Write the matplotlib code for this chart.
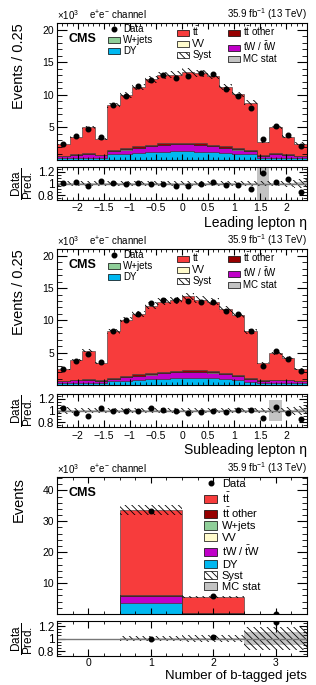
import numpy as np
import matplotlib
matplotlib.use('Agg')
import matplotlib.pyplot as plt
import matplotlib.transforms as mtransforms
from matplotlib.patches import Patch
from matplotlib.lines import Line2D
from matplotlib.legend import Legend
from matplotlib.ticker import MultipleLocator, FuncFormatter

plt.rcParams['font.family'] = ['Liberation Sans', 'DejaVu Sans']
plt.rcParams['mathtext.fontset'] = 'custom'
plt.rcParams['mathtext.rm'] = 'Liberation Sans'
plt.rcParams['mathtext.it'] = 'Liberation Sans:italic'
plt.rcParams['mathtext.bf'] = 'Liberation Sans:bold'
plt.rcParams['hatch.linewidth'] = 0.6
plt.rcParams['hatch.color'] = 'black'
plt.rcParams['axes.linewidth'] = 0.8

# ---- leading lepton eta (x10^3 events per bin) ----
eta_edges = np.linspace(-2.4, 2.4, 21)
lead_total = [2.4, 3.6, 5.0, 3.3, 8.4, 10.0, 11.2, 12.4, 13.0, 13.1,
              13.6, 13.3, 12.9, 11.2, 10.1, 8.8, 2.7, 5.0, 3.6, 2.5]
lead_dy = [0.25, 0.30, 0.35, 0.30, 0.90, 1.00, 1.10, 1.20, 1.30, 1.35,
           1.35, 1.30, 1.20, 1.10, 1.00, 0.90, 0.30, 0.35, 0.30, 0.25]
lead_tw = [0.30, 0.45, 0.55, 0.40, 0.50, 0.60, 0.75, 0.90, 1.00, 1.05,
           1.05, 1.00, 0.90, 0.75, 0.60, 0.50, 0.35, 0.55, 0.45, 0.30]
lead_tto = [0.05, 0.08, 0.10, 0.07, 0.15, 0.18, 0.20, 0.22, 0.23, 0.23,
            0.24, 0.23, 0.23, 0.20, 0.18, 0.15, 0.06, 0.10, 0.08, 0.05]
lead_vv = [0.01, 0.02, 0.02, 0.02, 0.03, 0.03, 0.04, 0.04, 0.04, 0.04,
           0.04, 0.04, 0.04, 0.04, 0.03, 0.03, 0.02, 0.02, 0.02, 0.01]
lead_wj = [0.01, 0.01, 0.01, 0.01, 0.01, 0.01, 0.01, 0.01, 0.01, 0.01,
           0.01, 0.01, 0.01, 0.01, 0.01, 0.01, 0.01, 0.01, 0.01, 0.01]
lead_ratio = [1.01, 1.02, 0.96, 1.05, 1.01, 0.99, 1.01, 0.99, 1.00, 0.96,
              0.95, 1.00, 1.03, 0.98, 0.97, 0.90, 1.17, 1.03, 1.07, 0.86]
lead_syst = [0.05, 0.045, 0.045, 0.045, 0.04, 0.04, 0.04, 0.04, 0.04, 0.04,
             0.04, 0.04, 0.04, 0.04, 0.04, 0.045, 0.05, 0.05, 0.06, 0.08]
lead_stat = [0.015, 0.012, 0.01, 0.012, 0.006, 0.006, 0.006, 0.006, 0.006, 0.006,
             0.006, 0.006, 0.006, 0.006, 0.006, 0.006, 0.35, 0.012, 0.015, 0.02]

# ---- subleading lepton eta ----
sub_total = [2.4, 3.9, 5.3, 3.4, 8.3, 10.1, 11.0, 12.3, 12.9, 13.1,
             13.7, 13.2, 12.9, 11.8, 10.8, 8.3, 3.4, 4.9, 4.2, 2.5]
sub_dy = [0.30, 0.35, 0.35, 0.30, 0.55, 0.65, 0.75, 0.85, 0.95, 1.05,
          1.10, 1.10, 1.05, 0.90, 0.75, 0.50, 0.30, 0.30, 0.35, 0.30]
sub_tw = [0.25, 0.35, 0.40, 0.30, 0.40, 0.55, 0.65, 0.75, 0.85, 0.90,
          0.90, 0.90, 0.85, 0.75, 0.60, 0.35, 0.30, 0.40, 0.35, 0.25]
sub_tto = [0.05, 0.08, 0.10, 0.07, 0.15, 0.18, 0.20, 0.22, 0.23, 0.23,
           0.24, 0.23, 0.23, 0.20, 0.18, 0.15, 0.07, 0.10, 0.08, 0.05]
sub_vv = lead_vv
sub_wj = lead_wj
sub_ratio = [1.045, 0.96, 0.915, 1.045, 1.00, 0.99, 1.00, 1.035, 1.015, 1.00,
             0.95, 0.97, 1.00, 0.97, 1.015, 1.005, 0.88, 1.06, 0.96, 0.85]
sub_syst = [0.06, 0.05, 0.05, 0.05, 0.045, 0.04, 0.04, 0.04, 0.04, 0.04,
            0.04, 0.04, 0.04, 0.04, 0.04, 0.045, 0.05, 0.05, 0.06, 0.08]
sub_stat = [0.015, 0.012, 0.01, 0.012, 0.006, 0.006, 0.006, 0.006, 0.006, 0.006,
            0.006, 0.006, 0.006, 0.006, 0.006, 0.006, 0.015, 0.18, 0.012, 0.02]

# ---- number of b-tagged jets ----
nb_edges = [-0.5, 0.5, 1.5, 2.5, 3.5]
nb_total = [0.0, 33.6, 5.65, 0.048]
nb_dy = [0.0, 3.5, 0.08, 0.002]
nb_tw = [0.0, 2.3, 0.12, 0.003]
nb_tto = [0.0, 0.35, 0.08, 0.002]
nb_vv = [0.0, 0.08, 0.01, 0.0]
nb_wj = [0.0, 0.03, 0.005, 0.0]
nb_ratio = [np.nan, 0.99, 1.02, 1.26]
nb_syst = [0.0, 0.045, 0.06, 0.18]
nb_stat = [0.0, 0.004, 0.01, 0.10]

C_TT = '#f73c3c'
C_TTO = '#960000'
C_WJ = '#8fcf99'
C_VV = '#fffbcc'
C_TW = '#c000c8'
C_DY = '#00b8f0'
C_STAT = '#c3c3c3'
HATCH = '\\' * 5

TT = r't$\bar{\mathrm{t}}$'
TTO = r't$\bar{\mathrm{t}}$ other'
TW = r'tW / $\bar{\mathrm{t}}$W'


def draw(ax, rax, edges, total, dy, tw, tto, vv, wj, ratio, syst, stat):
    total = np.array(total)
    others = np.array(dy) + np.array(tw) + np.array(tto) + np.array(vv) + np.array(wj)
    tt = total - others
    base = np.zeros(len(total))
    for vals, col in [(dy, C_DY), (tw, C_TW), (vv, C_VV), (wj, C_WJ), (tto, C_TTO), (tt, C_TT)]:
        top = base + np.array(vals)
        ax.stairs(top, edges, baseline=base, fill=True, facecolor=col,
                  edgecolor='#333333', lw=0.4)
        base = top
    syst = np.array(syst)
    stat = np.array(stat)
    ax.stairs(total * (1 + syst), edges, baseline=total * (1 - syst), fill=True,
              facecolor='none', edgecolor='black', lw=0, hatch=HATCH)

    ratio = np.array(ratio)
    data = ratio * total
    centers = 0.5 * (np.array(edges[1:]) + np.array(edges[:-1]))
    n = data * 1000.0
    ax.errorbar(centers, data, yerr=np.sqrt(n) / 1000.0, fmt='o', color='black',
                ms=3.3, lw=0.8, capsize=0, zorder=5)

    rax.stairs(1 + stat, edges, baseline=1 - stat, fill=True, facecolor=C_STAT,
               edgecolor='none', lw=0)
    rax.stairs(1 + syst, edges, baseline=1 - syst, fill=True, facecolor='none',
               edgecolor='black', lw=0, hatch=HATCH)
    rax.axhline(1.0, color='#777777', lw=1.0)
    rax.errorbar(centers, ratio, yerr=ratio / np.sqrt(n), fmt='o', color='black',
                 ms=3.3, lw=0.8, capsize=0, zorder=5)

    ax.set_xlim(edges[0], edges[-1])
    rax.set_xlim(edges[0], edges[-1])
    rax.set_ylim(0.72, 1.28)
    rax.set_yticks([0.8, 1.0, 1.2], labels=['0.8', '1', '1.2'])
    rax.yaxis.set_minor_locator(MultipleLocator(0.05))

    ax.tick_params(which='both', direction='in', top=True, right=True)
    ax.tick_params(axis='y', which='major', length=7, labelsize=7.5, pad=2)
    ax.tick_params(axis='y', which='minor', length=3.5)
    ax.tick_params(axis='x', which='major', length=4, labelbottom=False)
    ax.tick_params(axis='x', which='minor', length=2)
    rax.tick_params(which='both', direction='in', top=True, right=True)
    rax.tick_params(axis='y', which='major', length=6, labelsize=8.5, pad=2)
    rax.tick_params(axis='y', which='minor', length=3)
    rax.tick_params(axis='x', which='major', length=5, labelsize=7.5, pad=2.5)
    rax.tick_params(axis='x', which='minor', length=2.5)

    ax.text(0.0, 1.01, r'$\times$10$^{3}$', transform=ax.transAxes, ha='left',
            va='bottom', fontsize=7)
    ax.text(0.128, 1.01, r'e$^{+}$e$^{-}$ channel', transform=ax.transAxes,
            ha='left', va='bottom', fontsize=7)
    ax.text(1.0, 1.01, r'35.9 fb$^{-1}$ (13 TeV)', transform=ax.transAxes,
            ha='right', va='bottom', fontsize=7)
    ax.text(0.044, 0.93, 'CMS', transform=ax.transAxes, ha='left', va='top',
            fontsize=9, fontweight='bold')

    tr = mtransforms.blended_transform_factory(rax.transAxes, rax.transData)
    rax.text(-0.14, 1.0, r'$\dfrac{\mathrm{Data}}{\mathrm{Pred.}}$', transform=tr,
             rotation=90, ha='center', va='center', fontsize=8.5)


def fmt_eta(v, pos):
    return ('%g' % v).replace('-', '\u2212')


h_data = Line2D([], [], marker='o', color='black', ls='none', ms=3.3)
h_tt = Patch(facecolor=C_TT, edgecolor='black', lw=0.5)
h_tto = Patch(facecolor=C_TTO, edgecolor='black', lw=0.5)
h_wj = Patch(facecolor=C_WJ, edgecolor='black', lw=0.5)
h_vv = Patch(facecolor=C_VV, edgecolor='black', lw=0.5)
h_tw = Patch(facecolor=C_TW, edgecolor='black', lw=0.5)
h_dy = Patch(facecolor=C_DY, edgecolor='black', lw=0.5)
h_syst = Patch(facecolor='white', edgecolor='black', lw=0.5, hatch=HATCH)
h_stat = Patch(facecolor=C_STAT, edgecolor='black', lw=0.5)


def three_col_legend(ax):
    cols = [([h_data, h_wj, h_dy], ['Data', 'W+jets', 'DY'], 0.204),
            ([h_tt, h_vv, h_syst], [TT, 'VV', 'Syst'], 0.48),
            ([h_tto, h_tw, h_stat], [TTO, TW, 'MC stat'], 0.684)]
    for hs, ls, x in cols:
        leg = Legend(ax, hs, ls, loc='upper left', bbox_to_anchor=(x, 0.99),
                     frameon=False, fontsize=7, handlelength=1.25,
                     handleheight=0.65, handletextpad=0.3, labelspacing=0.1,
                     borderpad=0, borderaxespad=0)
        ax.add_artist(leg)


fig = plt.figure(figsize=(3.16, 6.85), dpi=100)
L, W = 0.1804, 0.7911
ax1 = fig.add_axes([L, 0.7664, W, 0.2000])
rx1 = fig.add_axes([L, 0.7080, W, 0.0482])
ax2 = fig.add_axes([L, 0.4380, W, 0.1985])
rx2 = fig.add_axes([L, 0.3766, W, 0.0482])
ax3 = fig.add_axes([L, 0.1036, W, 0.2000])
rx3 = fig.add_axes([L, 0.0423, W, 0.0511])

draw(ax1, rx1, eta_edges, lead_total, lead_dy, lead_tw, lead_tto, lead_vv, lead_wj,
     lead_ratio, lead_syst, lead_stat)
draw(ax2, rx2, eta_edges, sub_total, sub_dy, sub_tw, sub_tto, sub_vv, sub_wj,
     sub_ratio, sub_syst, sub_stat)
draw(ax3, rx3, nb_edges, nb_total, nb_dy, nb_tw, nb_tto, nb_vv, nb_wj,
     nb_ratio, nb_syst, nb_stat)

for ax, rx, lab in [(ax1, rx1, 'Leading lepton \u03b7'), (ax2, rx2, 'Subleading lepton \u03b7')]:
    ax.set_ylim(0, 21.05)
    ax.set_yticks([5, 10, 15, 20])
    ax.yaxis.set_minor_locator(MultipleLocator(1))
    for a in (ax, rx):
        a.xaxis.set_major_locator(MultipleLocator(0.5))
        a.xaxis.set_minor_locator(MultipleLocator(0.1))
    rx.xaxis.set_major_formatter(FuncFormatter(fmt_eta))
    ax.set_ylabel('Events / 0.25', fontsize=10.5, loc='top')
    ax.yaxis.set_label_coords(-0.125, 1.0)
    rx.set_xlabel(lab, fontsize=10, loc='right')
    rx.xaxis.set_label_coords(1.0, -0.47)
    three_col_legend(ax)

ax3.set_ylim(0, 44.3)
ax3.set_yticks([10, 20, 30, 40])
ax3.yaxis.set_minor_locator(MultipleLocator(2))
for a in (ax3, rx3):
    a.set_xticks([0, 1, 2, 3])
    a.xaxis.set_minor_locator(MultipleLocator(0.25))
rx3.tick_params(axis='x', which='major', pad=1.5)
ax3.set_ylabel('Events', fontsize=10.5, loc='top')
ax3.yaxis.set_label_coords(-0.125, 1.0)
rx3.set_xlabel('Number of b-tagged jets', fontsize=9.5, loc='right')
rx3.xaxis.set_label_coords(1.0, -0.40)
ax3.legend([h_data, h_tt, h_tto, h_wj, h_vv, h_tw, h_dy, h_syst, h_stat],
           ['Data', TT, TTO, 'W+jets', 'VV', TW, 'DY', 'Syst', 'MC stat'],
           loc='upper left', bbox_to_anchor=(0.588, 0.985), frameon=False,
           fontsize=8, handlelength=1.2, handleheight=0.75, handletextpad=0.4,
           labelspacing=0.12, borderpad=0, borderaxespad=0)

fig.savefig('out.png', dpi=100)
